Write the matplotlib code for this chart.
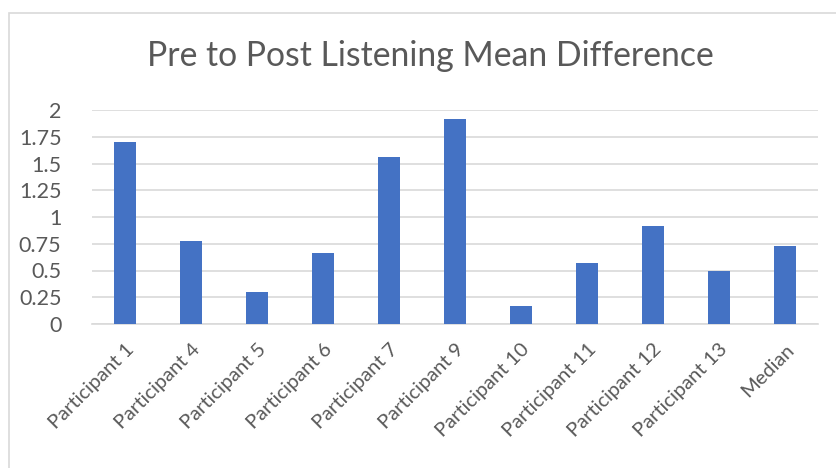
import matplotlib.pyplot as plt
from matplotlib.patches import Rectangle

# values
categories = ["Participant 1", "Participant 4", "Participant 5", "Participant 6",
              "Participant 7", "Participant 9", "Participant 10", "Participant 11",
              "Participant 12", "Participant 13", "Median"]
mean_diff = [1.70, 0.78, 0.30, 0.66, 1.56, 1.92, 0.17, 0.57, 0.92, 0.50, 0.725]
y_ticks = [0, 0.25, 0.5, 0.75, 1, 1.25, 1.5, 1.75, 2]
y_labels = ["0", "0.25", "0.5", "0.75", "1", "1.25", "1.5", "1.75", "2"]

plt.rcParams['font.family'] = ['Lato', 'DejaVu Sans']
text_col = '#595959'
grid_col = '#d9d9d9'

fig = plt.figure(figsize=(8.36, 4.68), dpi=100)
# light chart border
fig.patches.append(Rectangle((9 / 836, -0.05), 1.2, 1 - 12.5 / 468 + 0.05,
                             transform=fig.transFigure, fill=False,
                             edgecolor=grid_col, linewidth=1.2))

ax = fig.add_axes([92 / 836, 1 - 324 / 468, 726 / 836, 214 / 468])
x = range(len(categories))
ax.bar(x, mean_diff, width=0.32, color='#4472C4', zorder=3)

ax.set_xlim(-0.5, len(categories) - 0.5)
ax.set_ylim(0, 2)
ax.set_yticks(y_ticks)
ax.set_yticklabels(y_labels, fontsize=15.5, color=text_col)
ax.set_xticks(list(x))
ax.set_xticklabels(categories, rotation=45, ha='right', rotation_mode='anchor',
                   fontsize=14.5, color=text_col)
ax.tick_params(axis='both', length=0)
ax.tick_params(axis='y', pad=22)
ax.tick_params(axis='x', pad=12)

ax.grid(axis='y', color=grid_col, linewidth=1.2, zorder=0)
for side in ['top', 'right', 'left']:
    ax.spines[side].set_visible(False)
ax.spines['bottom'].set_color(grid_col)
ax.spines['bottom'].set_linewidth(1.2)

fig.text(430 / 836, 1 - 56 / 468, "Pre to Post Listening Mean Difference",
         ha='center', va='center', fontsize=24.3, color=text_col)

fig.savefig("out.png", dpi=100)
